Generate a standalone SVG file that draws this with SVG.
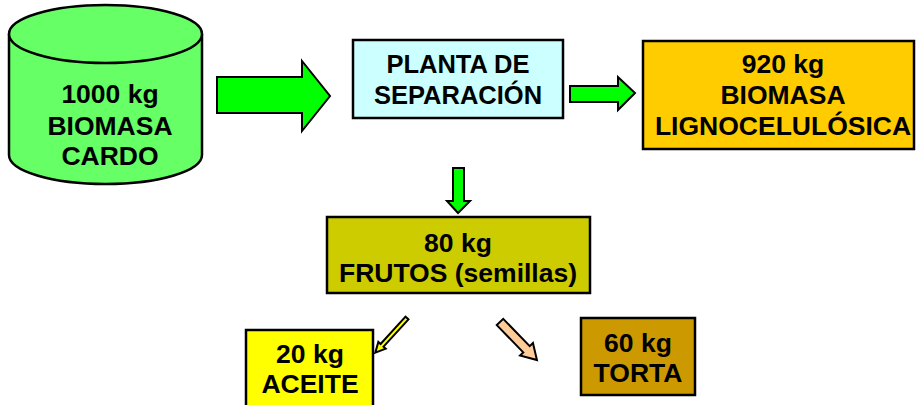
<svg xmlns="http://www.w3.org/2000/svg" width="916" height="405" viewBox="0 0 916 405">
<style>
.t{font-family:"Liberation Sans",Arial,sans-serif;font-weight:bold;font-size:26.5px;fill:#000;text-anchor:middle}
.s{font-size:25.5px}
.b{stroke:#000;stroke-width:2.5}
.a{stroke:#000;stroke-width:2;stroke-linejoin:miter}
</style>
<rect width="916" height="405" fill="#fff"/>
<g id="cardo">
<path class="b" d="M9,34 L9,155 A96.5,29 0 0 0 202,155 L202,34" fill="#66FF66"/>
<ellipse class="b" cx="105.5" cy="34" rx="96.5" ry="29" fill="#66FF66"/>
<text class="t" x="110" y="103">1000 kg</text>
<text class="t" x="110" y="135">BIOMASA</text>
<text class="t" x="110" y="165">CARDO</text>
</g>
<g id="planta">
<rect class="b" x="353" y="40" width="210" height="78" fill="#CCFFFF"/>
<text class="t s" x="458" y="73">PLANTA DE</text>
<text class="t s" x="458" y="104">SEPARACIÓN</text>
</g>
<g id="lignocelulosica">
<rect class="b" x="643" y="41" width="271" height="108" fill="#FFCC00"/>
<text class="t" x="783" y="73">920 kg</text>
<text class="t" x="783" y="104">BIOMASA</text>
<text class="t" x="783" y="135">LIGNOCELULÓSICA</text>
</g>
<g id="frutos">
<rect class="b" x="327" y="217" width="263" height="76" fill="#CCCC00"/>
<text class="t" x="458" y="252">80 kg</text>
<text class="t" x="458" y="282">FRUTOS (semillas)</text>
</g>
<g id="aceite">
<rect class="b" x="246" y="330" width="127" height="80" fill="#FFFF00"/>
<text class="t" x="310" y="363">20 kg</text>
<text class="t" x="310" y="393">ACEITE</text>
</g>
<g id="torta">
<rect class="b" x="581" y="318" width="114" height="77" fill="#CC9900"/>
<text class="t" x="638" y="352">60 kg</text>
<text class="t" x="638" y="382">TORTA</text>
</g>
<g id="connectors">
<polygon class="a" fill="#00FF00" points="217,77 302,77 302,61 330,96 302,131 302,113 217,113"/>
<polygon class="a" fill="#00FF00" points="570,86 618,86 618,77 635,93 618,110 618,102 570,102"/>
<polygon class="a" fill="#00FF00" points="453,168 464,168 464,201 470,201 458,213 447,201 453,201"/>
<g transform="translate(407,318) rotate(132.4)">
<polygon class="a" fill="#FFFF00" stroke-width="1.5" points="0,-2 37,-2 37,-5 47,0 37,5 37,2 0,2"/>
</g>
<g transform="translate(500,322) rotate(45.8)">
<polygon class="a" fill="#FFCC99" stroke-width="1.8" points="0,-4.5 38,-4.5 38,-9 53,0 38,9 38,4.5 0,4.5"/>
</g>
</g>
</svg>
